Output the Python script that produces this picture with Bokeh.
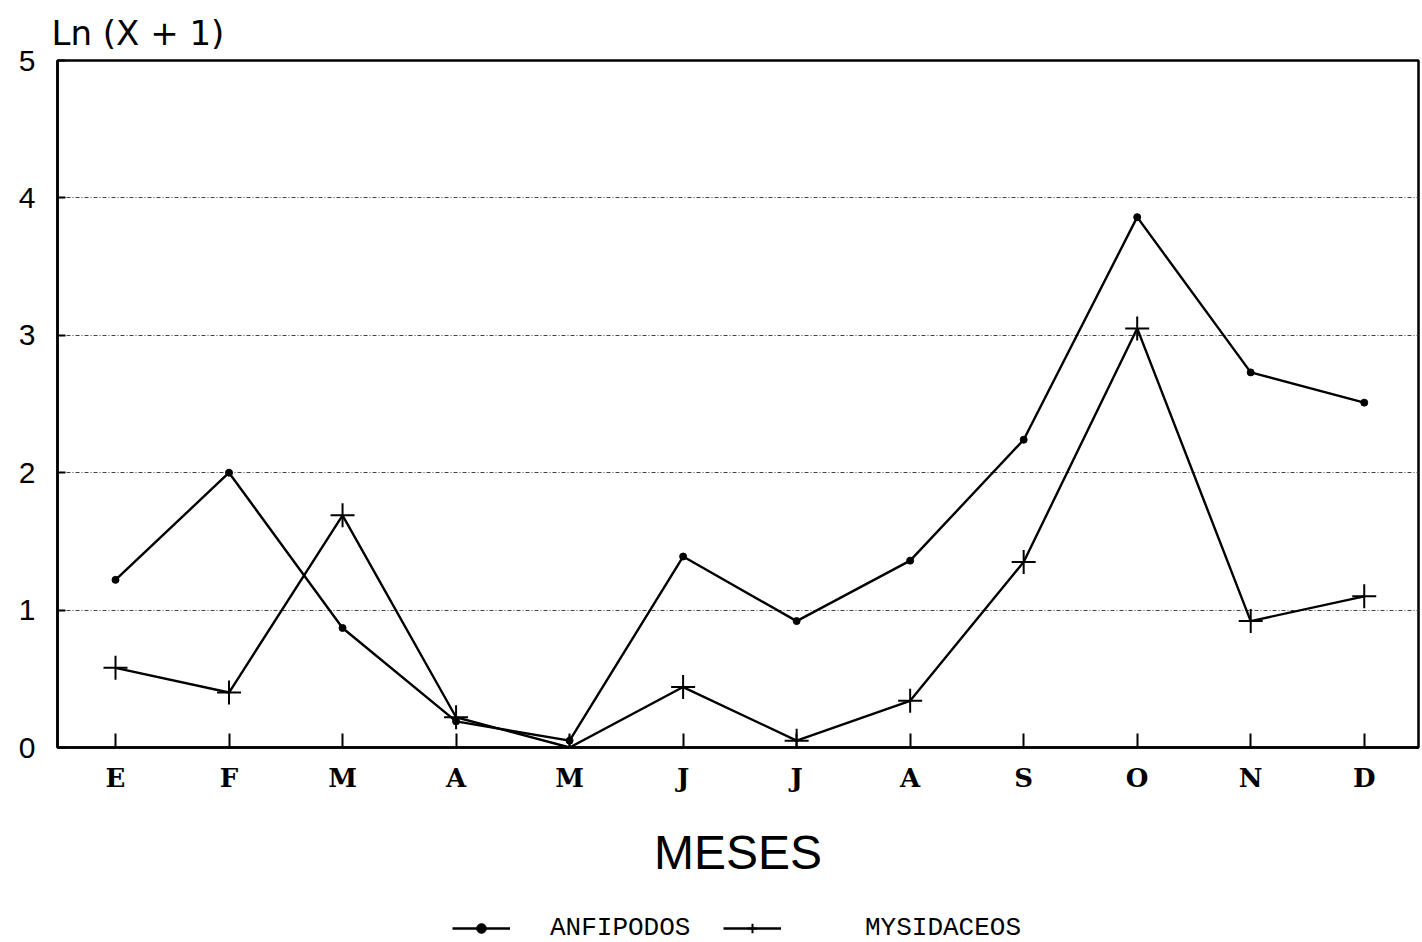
from bokeh.plotting import figure
from bokeh.layouts import column
from bokeh.models import FixedTicker, Range1d, Legend, LegendItem
from bokeh.embed import file_html
from bokeh.resources import INLINE

# Monthly abundance, Ln(X + 1)
months = ["E", "F", "M", "A", "M", "J", "J", "A", "S", "O", "N", "D"]
month_pos = list(range(1, 13))
anfipodos = [1.22, 2.00, 0.87, 0.19, 0.05, 1.39, 0.92, 1.36, 2.24, 3.86, 2.73, 2.51]
mysidaceos = [0.58, 0.40, 1.69, 0.22, 0.00, 0.44, 0.05, 0.34, 1.35, 3.05, 0.92, 1.10]
y_ticks = [0, 1, 2, 3, 4, 5]
series_names = ["ANFIPODOS", "MYSIDACEOS"]

LINE_W = 2.4
DOT = dict(marker="circle", size=7, fill_color="black", line_color="black")
CROSS = dict(marker="cross", size=24, line_color="black", line_width=2)

p = figure(
    frame_width=1361, frame_height=687,
    x_range=Range1d(0.489, 12.478), y_range=Range1d(0, 5),
    output_backend="svg", toolbar_location=None,
    min_border_left=57, min_border_right=4, min_border_top=60, min_border_bottom=140,
)
p.background_fill_color = "white"
p.border_fill_color = "white"
p.outline_line_color = "black"
p.outline_line_width = 2.5

p.title.text = "Ln (X + 1)"
p.title.text_font = "DejaVu Sans"
p.title.text_font_size = "34px"
p.title.text_font_style = "normal"
p.title.text_color = "black"
p.title.align = "left"
p.title.offset = -6
p.title.standoff = 15

# x axis: month initials, inward ticks
p.xaxis.ticker = FixedTicker(ticks=month_pos)
p.xaxis.major_label_overrides = {i: m for i, m in zip(month_pos, months)}
p.xaxis.major_label_text_font = "DejaVu Serif"
p.xaxis.major_label_text_font_style = "bold"
p.xaxis.major_label_text_font_size = "26px"
p.xaxis.major_label_text_color = "black"
p.xaxis.major_label_standoff = 15
p.xaxis.major_tick_in = 14
p.xaxis.major_tick_out = 0
p.xaxis.major_tick_line_width = 2
p.xaxis.major_tick_line_color = "black"
p.xaxis.minor_tick_line_color = None
p.xaxis.axis_line_width = 2.5
p.xaxis.axis_line_color = "black"
p.xaxis.axis_label = "MESES"
p.xaxis.axis_label_text_font = "Liberation Sans"
p.xaxis.axis_label_text_font_style = "normal"
p.xaxis.axis_label_text_font_size = "48px"
p.xaxis.axis_label_text_color = "black"
p.xaxis.axis_label_standoff = 30

# y axis
p.yaxis.ticker = FixedTicker(ticks=y_ticks)
p.yaxis.major_label_text_font = "Liberation Sans"
p.yaxis.major_label_text_font_size = "30px"
p.yaxis.major_label_text_color = "black"
p.yaxis.major_label_standoff = 22
p.yaxis.major_tick_in = 8
p.yaxis.major_tick_out = 0
p.yaxis.major_tick_line_width = 2
p.yaxis.minor_tick_line_color = None
p.yaxis.axis_line_width = 2.5
p.yaxis.axis_line_color = "black"

p.xgrid.grid_line_color = None
p.ygrid.ticker = FixedTicker(ticks=[1, 2, 3, 4])
p.ygrid.grid_line_color = "#444444"
p.ygrid.grid_line_width = 1
p.ygrid.grid_line_dash = "4 2 1 2"

# series
p.line(month_pos, anfipodos, line_color="black", line_width=LINE_W)
p.scatter(month_pos, anfipodos, **DOT)
p.line(month_pos, mysidaceos, line_color="black", line_width=LINE_W)
p.scatter(month_pos, mysidaceos, **CROSS)

# legend strip underneath the chart; its renderers hold the same series but
# sit outside the strip's ranges, so only the legend samples are visible
leg = figure(
    width=1422, height=55, x_axis_type=None, y_axis_type=None,
    x_range=Range1d(100, 101), y_range=Range1d(100, 101),
    output_backend="svg", toolbar_location=None,
    min_border=0, outline_line_color=None,
)
leg.grid.visible = False
la = leg.line(month_pos, anfipodos, line_color="black", line_width=LINE_W)
sa = leg.scatter(month_pos, anfipodos, **DOT)
lm = leg.line(month_pos, mysidaceos, line_color="black", line_width=LINE_W)
sm = leg.scatter(month_pos, mysidaceos, **CROSS)

legend_style = dict(
    orientation="horizontal",
    glyph_width=58, glyph_height=24,
    label_text_font="Liberation Mono",
    label_text_font_size="26px",
    label_text_color="black",
    border_line_color=None,
    background_fill_alpha=0,
    padding=0, margin=0,
)
leg.add_layout(Legend(items=[LegendItem(label=series_names[0], renderers=[la, sa])],
                      location=(395, -1), label_standoff=40, **legend_style), "center")
leg.add_layout(Legend(items=[LegendItem(label=series_names[1], renderers=[lm, sm])],
                      location=(666, -1), label_standoff=84, **legend_style), "center")

layout = column(p, leg, spacing=0)
open("out.html", "w").write(file_html(layout, INLINE))
